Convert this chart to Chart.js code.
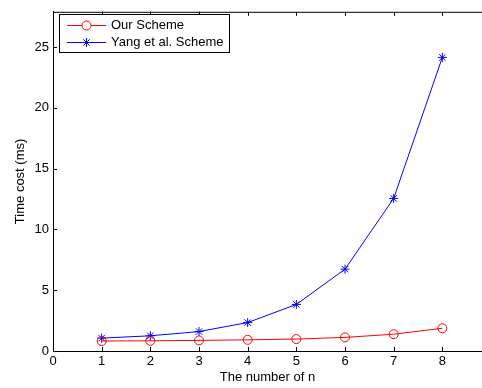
<!DOCTYPE html>
<html><head>
<meta charset="utf-8">
<script src="https://cdn.jsdelivr.net/npm/chart.js@4"></script>
<style>html,body{margin:0;padding:0;overflow:hidden;background:#fff}#wrap{width:482px;height:388px}</style>
</head><body><div id="wrap"><canvas id="c" width="482" height="388"></canvas></div>
<script>
const nValues = [1, 2, 3, 4, 5, 6, 7, 8];
const ourScheme = [0.82, 0.84, 0.87, 0.92, 0.98, 1.12, 1.38, 1.87];
const yangScheme = [1.06, 1.25, 1.6, 2.34, 3.83, 6.73, 12.55, 24.15];
const seriesLabels = ['Our Scheme', 'Yang et al. Scheme'];
const xTicks = [0, 1, 2, 3, 4, 5, 6, 7, 8];
const yTicks = [0, 5, 10, 15, 20, 25];

const FONT = "'Liberation Sans', Arial, Helvetica, sans-serif";

const frameAndLegend = {
  id: 'frameAndLegend',
  afterDraw(chart) {
    const ctx = chart.ctx, a = chart.chartArea;
    const xs = chart.scales.x, ys = chart.scales.y;
    ctx.save();
    ctx.strokeStyle = '#000';
    ctx.lineWidth = 1;
    ctx.beginPath();
    ctx.moveTo(a.left, a.top + 0.5); ctx.lineTo(chart.width, a.top + 0.5);
    ctx.moveTo(a.left, a.bottom + 0.5); ctx.lineTo(chart.width, a.bottom + 0.5);
    xTicks.forEach(v => {
      const px = Math.round(xs.getPixelForValue(v)) + 0.5;
      ctx.moveTo(px, a.bottom); ctx.lineTo(px, a.bottom - 4);
      ctx.moveTo(px, a.top); ctx.lineTo(px, a.top + 4);
    });
    yTicks.forEach(v => {
      const py = Math.round(ys.getPixelForValue(v)) + 0.5;
      ctx.moveTo(a.left, py); ctx.lineTo(a.left + 4, py);
    });
    ctx.stroke();

    // legend
    const bx = 59.5, by = 14.5, bw = 170, bh = 38;
    ctx.fillStyle = '#fff';
    ctx.fillRect(bx, by, bw, bh);
    ctx.strokeRect(bx, by, bw, bh);
    const rows = [25.5, 42.5];
    chart.data.datasets.forEach((ds, i) => {
      const y = rows[i];
      ctx.strokeStyle = ds.borderColor;
      ctx.lineWidth = 1;
      ctx.beginPath();
      ctx.moveTo(67, y); ctx.lineTo(106, y);
      ctx.stroke();
      Chart.helpers.drawPoint(ctx, {pointStyle: ds.pointStyle, radius: ds.pointRadius, borderWidth: 1}, 86.5, y);
      ctx.fillStyle = '#000';
      ctx.font = '13px ' + FONT;
      ctx.textBaseline = 'middle';
      ctx.textAlign = 'left';
      ctx.fillText(ds.label, 111, y);
    });
    ctx.restore();
  }
};

new Chart(document.getElementById('c'), {
  type: 'line',
  data: {
    datasets: [
      {
        label: seriesLabels[0],
        data: nValues.map((n, i) => ({x: n, y: ourScheme[i]})),
        borderColor: '#ff0000',
        backgroundColor: 'rgba(0,0,0,0)',
        pointBorderColor: '#ff0000',
        pointBackgroundColor: 'rgba(0,0,0,0)',
        pointStyle: 'circle',
        pointRadius: 4.5,
        pointBorderWidth: 1,
        borderWidth: 1,
        tension: 0
      },
      {
        label: seriesLabels[1],
        data: nValues.map((n, i) => ({x: n, y: yangScheme[i]})),
        borderColor: '#0000ff',
        backgroundColor: 'rgba(0,0,0,0)',
        pointBorderColor: '#0000ff',
        pointBackgroundColor: 'rgba(0,0,0,0)',
        pointStyle: 'star',
        pointRadius: 4.5,
        pointBorderWidth: 1,
        borderWidth: 1,
        tension: 0
      }
    ]
  },
  options: {
    responsive: false,
    animation: false,
    devicePixelRatio: 1,
    layout: {autoPadding: false, padding: {left: 0, top: 8, right: 0, bottom: 0}},
    plugins: {legend: {display: false}, tooltip: {enabled: false}},
    scales: {
      x: {
        type: 'linear', min: 0, max: 8.815,
        afterBuildTicks: s => { s.ticks = xTicks.map(v => ({value: v})); },
        afterFit: s => { s.height = 37; },
        grid: {display: false, drawTicks: false},
        border: {display: true, color: '#000', width: 1},
        ticks: {color: '#000', font: {family: FONT, size: 13}, padding: 3, maxRotation: 0, autoSkip: false},
        title: {display: true, text: 'The number of n', color: '#000', font: {family: FONT, size: 13}, padding: {top: 0, bottom: 3}}
      },
      y: {
        type: 'linear', min: 0, max: 27.9,
        afterBuildTicks: s => { s.ticks = yTicks.map(v => ({value: v})); },
        afterFit: s => { s.width = 53; },
        grid: {display: false, drawTicks: false},
        border: {display: true, color: '#000', width: 1},
        ticks: {color: '#000', font: {family: FONT, size: 13}, padding: 4},
        title: {display: true, text: 'Time cost (ms)', color: '#000', font: {family: FONT, size: 13}, padding: {top: 13, bottom: 0}}
      }
    }
  },
  plugins: [frameAndLegend]
});
</script>
</body></html>
